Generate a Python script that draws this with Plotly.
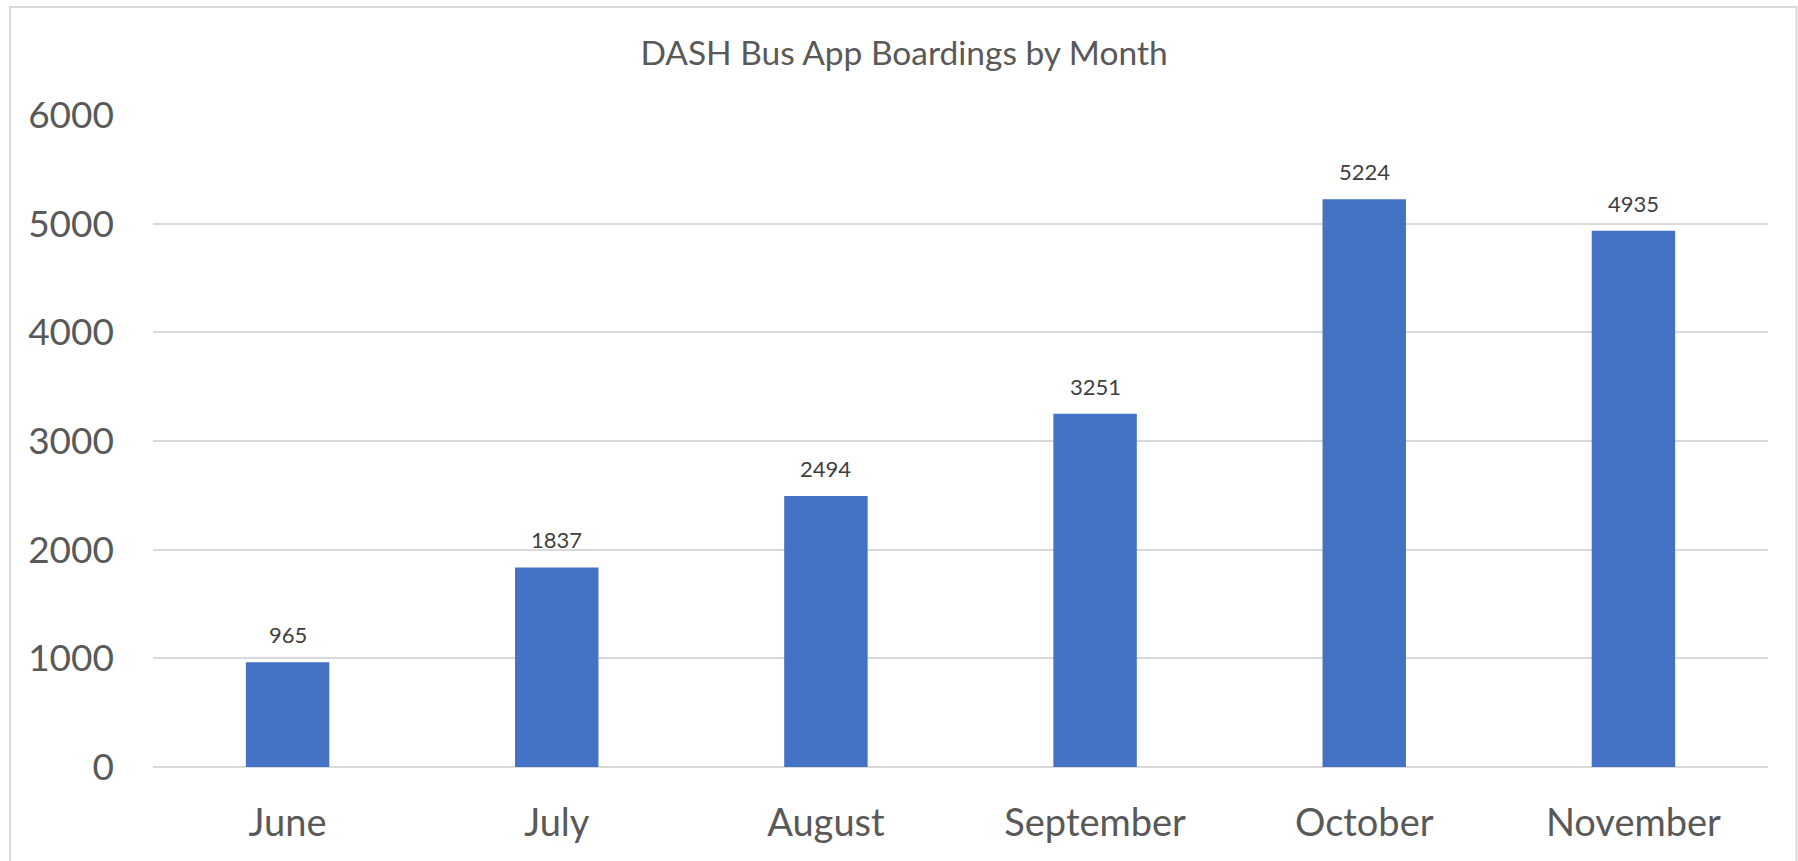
import plotly.graph_objects as go

months = ["June", "July", "August", "September", "October", "November"]
boardings = [965, 1837, 2494, 3251, 5224, 4935]
y_ticks = [0, 1000, 2000, 3000, 4000, 5000, 6000]

W, H = 1798, 861
L, R, T, B = 153, 30, 115, 94
pw, ph = W - L - R, H - T - B

def px_x(x):
    return (x - L) / pw

def px_y(y):
    return (H - B - y) / ph

fig = go.Figure(go.Bar(
    x=months, y=boardings,
    marker=dict(color="#4472C4", line=dict(width=0)),
    width=0.31,
    hoverinfo="x+y",
))

for m, v in zip(months, boardings):
    fig.add_annotation(x=m, y=v, text=str(v), showarrow=False,
                       yanchor="bottom", yshift=12,
                       font=dict(family="Lato", size=22, color="#404040"))

fig.update_layout(
    width=W, height=H,
    margin=dict(l=L, r=R, t=T, b=B),
    paper_bgcolor="white", plot_bgcolor="white",
    title=dict(text="DASH Bus App Boardings by Month", x=904 / W,
               xref="container", xanchor="center", y=1 - 53 / H,
               yref="container", yanchor="middle",
               font=dict(family="Lato", size=33.5, color="#595959")),
    showlegend=False,
    xaxis=dict(showgrid=False, showline=False, ticks="",
               tickfont=dict(family="Lato", size=38, color="#595959"),
               ticklabelstandoff=30),
    yaxis=dict(range=[0, 6000], tickvals=y_ticks, showgrid=True,
               gridcolor="#d9d9d9", gridwidth=2, zeroline=True,
               zerolinecolor="#d9d9d9", zerolinewidth=2, showline=False,
               ticks="", tickfont=dict(family="Lato", size=37, color="#595959"),
               ticklabelstandoff=38),
    shapes=[dict(type="rect", xref="paper", yref="paper",
                 x0=px_x(10), x1=px_x(1796.5), y0=px_y(900), y1=px_y(7),
                 line=dict(color="#d9d9d9", width=2), fillcolor="rgba(0,0,0,0)",
                 layer="below")],
)

fig.write_html("out.html",
               config={"displayModeBar": False},
               post_script="document.body.style.margin='0px';"
                           "document.body.style.overflow='hidden';")
